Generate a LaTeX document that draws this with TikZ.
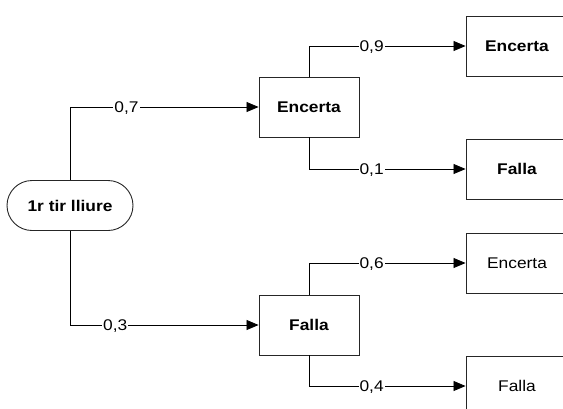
\documentclass[tikz,border=0pt]{standalone}
\usepackage{fontspec}
\setmainfont[FakeStretch=1.12]{Liberation Sans}
\usetikzlibrary{arrows.meta}

\begin{document}
\begin{tikzpicture}[x=1pt, y=-1pt,
  every node/.style={font=\fontsize{15.5pt}{18pt}\selectfont},
  startStyle/.style={draw=black!85, line width=0.9pt, rounded corners=25pt, minimum width=126pt, minimum height=50pt, font=\fontsize{15.5pt}{18pt}\selectfont\bfseries},
  boxStyle/.style={draw=black!85, line width=0.9pt, minimum width=100pt, minimum height=60pt, font=\fontsize{15.5pt}{18pt}\selectfont\bfseries},
  leafStyle/.style={boxStyle, minimum width=102pt},
  plainLeafStyle/.style={leafStyle, font=\fontsize{15.5pt}{18pt}\selectfont},
  edgeStyle/.style={line width=0.8pt, -{Triangle[length=12pt, width=10pt]}},
  probStyle/.style={fill=white, inner sep=1pt, text depth=0pt}
]
\useasboundingbox (0,0) rectangle (563,408);

% first shot
\node [startStyle] (start) at (70,205.5) {1r tir lliure};

% second level
\node [boxStyle] (hit)  at (309,107) {Encerta};
\node [boxStyle] (miss) at (309,325) {Falla};

% outcomes
\node [leafStyle] (hitHit)  at (517,46)  {Encerta};
\node [leafStyle] (hitMiss) at (517,169) {Falla};
\node [plainLeafStyle] (missHit)  at (517,263) {Encerta};
\node [plainLeafStyle] (missMiss) at (517,386) {Falla};

% branches
\draw [edgeStyle] (start.north) |- node [probStyle, pos=0.65] {0,7} (hit.west);
\draw [edgeStyle] (start.south) |- node [probStyle, pos=0.62] {0,3} (miss.west);

\draw [edgeStyle] (hit.north) |- node [probStyle, pos=0.7] {0,9} (hitHit.west);
\draw [edgeStyle] (hit.south) |- node [probStyle, pos=0.7] {0,1} (hitMiss.west);

\draw [edgeStyle] (miss.north) |- node [probStyle, pos=0.7] {0,6} (missHit.west);
\draw [edgeStyle] (miss.south) |- node [probStyle, pos=0.7] {0,4} (missMiss.west);
\end{tikzpicture}
\end{document}
